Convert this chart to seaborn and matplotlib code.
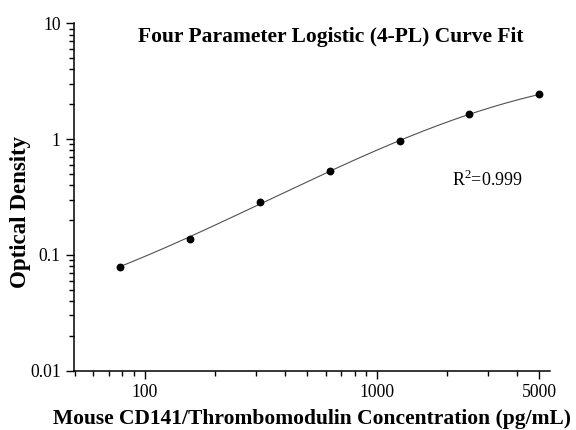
import numpy as np
import pandas as pd
import matplotlib
matplotlib.use("Agg")
import matplotlib.pyplot as plt
import seaborn as sns
from matplotlib.ticker import LogLocator, FixedLocator, FixedFormatter, NullFormatter

# standard curve readings
concentration = [78.125, 156.25, 312.5, 625, 1250, 2500, 5000]
optical_density = [0.078, 0.137, 0.286, 0.530, 0.960, 1.645, 2.43]

x_ticks = [100, 1000, 5000]
x_tick_labels = ["100", "1000", "5000"]
y_ticks = [0.01, 0.1, 1, 10]
y_tick_labels = ["0.01", "0.1", "1", "10"]

df = pd.DataFrame({"conc": concentration, "od": optical_density})


# 4-PL fit: y = D + (A - D) / (1 + (x/C)^B), grid over B, C, linear solve for A, D
def fit_4pl(x, y):
    x = np.asarray(x, float)
    y = np.asarray(y, float)
    best = None
    for b in np.linspace(0.3, 2.5, 221):
        for c in np.geomspace(100, 1e5, 400):
            g = 1.0 / (1.0 + (x / c) ** b)
            M = np.column_stack([g, 1 - g])
            coef, *_ = np.linalg.lstsq(M, y, rcond=None)
            res = np.sum((M @ coef - y) ** 2)
            if best is None or res < best[0]:
                best = (res, coef[0], b, c, coef[1])
    return best[1:]


A, B, C, D = fit_4pl(concentration, optical_density)
xs = np.geomspace(concentration[0], concentration[-1], 300)
curve = pd.DataFrame({"conc": xs, "od": D + (A - D) / (1 + (xs / C) ** B)})

sns.set_style("ticks")
plt.rcParams["font.family"] = ["Liberation Serif", "DejaVu Serif"]
plt.rcParams["text.color"] = "black"
plt.rcParams["mathtext.fontset"] = "custom"
plt.rcParams["mathtext.rm"] = "Liberation Serif"

fig = plt.figure(figsize=(5.76, 4.30), dpi=100)
ax = fig.add_axes([0.1285, 0.1379, 0.9549 - 0.1285, 0.9458 - 0.1379])

sns.lineplot(data=curve, x="conc", y="od", ax=ax, color="#505050", linewidth=0.8)
sns.scatterplot(data=df, x="conc", y="od", ax=ax, color="black", s=32,
                edgecolor="black", linewidth=0, zorder=3)

ax.set_xscale("log")
ax.set_yscale("log")
ax.set_xlim(49.5, 5560)
ax.set_ylim(0.01, 10)

ax.xaxis.set_major_locator(FixedLocator(x_ticks))
ax.xaxis.set_major_formatter(FixedFormatter(x_tick_labels))
ax.xaxis.set_minor_locator(LogLocator(base=10, subs=np.arange(2, 10)))
ax.xaxis.set_minor_formatter(NullFormatter())
ax.yaxis.set_major_locator(FixedLocator(y_ticks))
ax.yaxis.set_major_formatter(FixedFormatter(y_tick_labels))
ax.yaxis.set_minor_locator(LogLocator(base=10, subs=np.arange(2, 10)))
ax.yaxis.set_minor_formatter(NullFormatter())

ax.tick_params(which="major", direction="out", length=6, width=1, labelsize=12.7,
               colors="black", pad=3.5)
ax.tick_params(which="minor", direction="out", length=3.5, width=1, colors="black")

sns.despine(ax=ax)
for s in ["left", "bottom"]:
    ax.spines[s].set_linewidth(1.1)
    ax.spines[s].set_color("black")

ax.set_xlabel("Mouse CD141/Thrombomodulin Concentration (pg/mL)", fontsize=15.5,
              fontweight="bold", labelpad=6, color="black")
ax.set_ylabel("")
fig.text(0.035, 0.506, "Optical Density", rotation=90, ha="center", va="center",
         fontsize=16.5, fontweight="bold")

fig.text(0.575, 0.914, "Four Parameter Logistic (4-PL) Curve Fit", ha="center",
         va="center", fontsize=15.5, fontweight="bold")
ax.text(0.795, 0.55, r"R$^{\mathrm{2}}$=0.999", transform=ax.transAxes, fontsize=13,
        ha="left", va="center")

fig.savefig("out.png", dpi=100)
